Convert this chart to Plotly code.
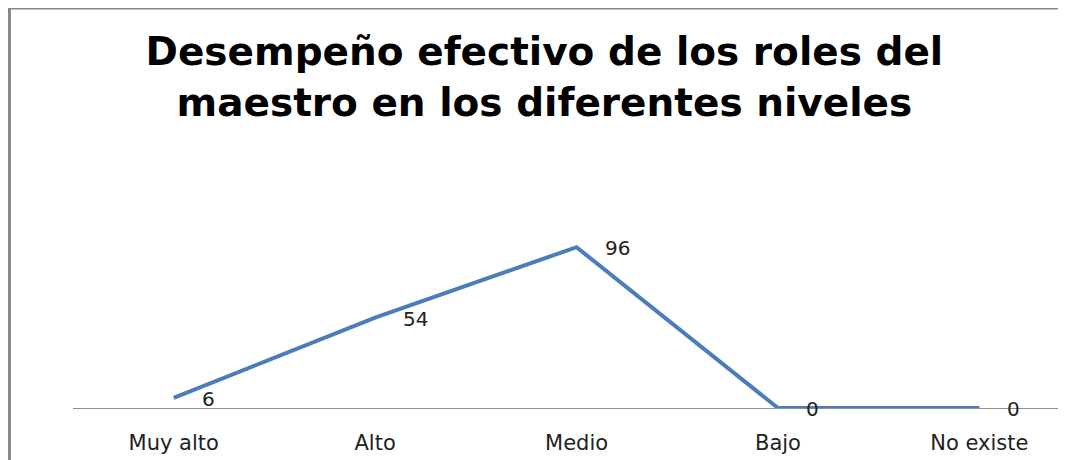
import plotly.graph_objects as go

# valores
niveles = ["Muy alto", "Alto", "Medio", "Bajo", "No existe"]
frecuencias = [6, 54, 96, 0, 0]

titulo = "Desempeño efectivo de los roles del<br>maestro en los diferentes niveles"

fig = go.Figure()
fig.add_trace(go.Scatter(
    x=niveles, y=frecuencias, mode="lines",
    line=dict(color="#4a7ebb", width=4),
    hoverinfo="skip", showlegend=False,
))

# etiquetas de datos a la derecha de cada punto
for n, v in zip(niveles, frecuencias):
    fig.add_annotation(
        x=n, y=v, text=str(v), showarrow=False,
        xanchor="left", yanchor="middle", xshift=26, yshift=-1,
        font=dict(family="DejaVu Sans", size=20, color="#222222"),
    )

# borde del area del grafico (izquierda y arriba)
fig.add_shape(type="line", xref="paper", yref="paper",
              x0=-0.0655, x1=1.0, y0=1.99, y1=1.99,
              line=dict(color="#888888", width=3))
fig.add_shape(type="line", xref="paper", yref="paper",
              x0=-0.0640, x1=-0.0640, y0=1.99, y1=-0.3,
              line=dict(color="#888888", width=3))

# la pagina deja 8 px de margen, por eso la figura es 8 px menor
fig.update_layout(
    width=1058, height=452,
    margin=dict(l=65, r=0, t=199, b=52),
    paper_bgcolor="white", plot_bgcolor="white",
    title=dict(
        text=titulo, x=0.507, xref="container", xanchor="center",
        y=0.874, yref="container", yanchor="middle",
        font=dict(family="DejaVu Sans", size=39, color="#000000", weight="bold"),
    ),
    xaxis=dict(
        range=[-0.5, 4.43], showgrid=False, zeroline=False,
        showline=True, linecolor="#8c8c8c", linewidth=1.2,
        ticks="", ticklabelstandoff=16,
        tickfont=dict(family="DejaVu Sans", size=21, color="#222222"),
    ),
    yaxis=dict(
        range=[0, 120], visible=False, showgrid=False, zeroline=False,
    ),
)

fig.write_html("out.html")
